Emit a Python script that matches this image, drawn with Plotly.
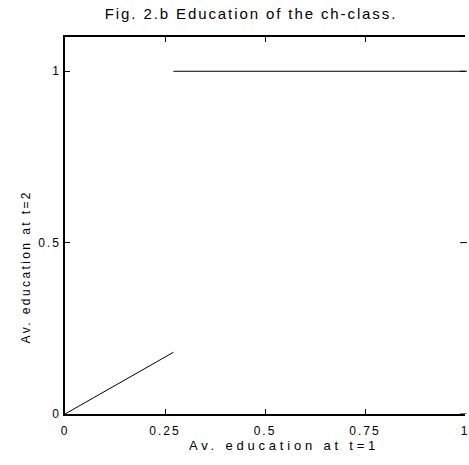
import plotly.graph_objects as go

# Average education of the ch-class: low branch and upper branch
low_x = [0.0, 0.271]
low_y = [0.0, 0.18]
high_x = [0.271, 1.0]
high_y = [1.0, 1.0]

x_ticks = [0, 0.25, 0.5, 0.75, 1]
x_tick_text = ["0", "0.25", "0.5", "0.75", "1"]
y_ticks = [0, 0.5, 1]
y_tick_text = ["0", "0.5", "1"]

title_text = "Fig. 2.b Education of the ch-class."
x_title = "Av. education at t=1"
y_title = "Av. education at t=2"

W, H = 469, 465
L, T, B = 65, 37, 51
PW, PH = W - L, H - T - B
FONT = "Liberation Sans, Arial, sans-serif"

fig = go.Figure()
for xs, ys in ((low_x, low_y), (high_x, high_y)):
    fig.add_trace(go.Scatter(x=xs, y=ys, mode="lines",
                             line=dict(color="black", width=1),
                             showlegend=False, hoverinfo="skip"))

axis_common = dict(showgrid=False, zeroline=False, showline=True,
                   linecolor="black", linewidth=1.5,
                   ticks="inside", ticklen=5, tickwidth=1, tickcolor="black",
                   tickfont=dict(family=FONT, size=12, color="black"))

# x axis mirrored to draw the top frame with its ticks
fig.update_xaxes(range=[0, 1], tickvals=x_ticks, ticktext=x_tick_text,
                 mirror="ticks", ticklabelstandoff=5,
                 ticklabeloverflow="allow", **axis_common)
# the right frame edge sits past the page edge: only its ticks show
fig.update_yaxes(range=[0, 1.1], tickvals=y_ticks, ticktext=y_tick_text,
                 mirror=False, **axis_common)
for yv in y_ticks:
    fig.add_shape(type="line", xref="paper", yref="y",
                  x0=1 - 5 / PW, x1=1.0 + 2 / PW, y0=yv, y1=yv,
                  line=dict(color="black", width=1))

fig.add_annotation(text=x_title, showarrow=False, name="xlabel",
                   xref="paper", yref="paper", xanchor="center", yanchor="middle",
                   x=(286 - L) / PW, y=-(445 - (H - B)) / PH,
                   font=dict(family=FONT, size=13, color="black"))
fig.add_annotation(text=y_title, textangle=-90, showarrow=False, name="ylabel",
                   xref="paper", yref="paper", xanchor="center", yanchor="middle",
                   x=-(L - 26) / PW, y=((H - B) - 266) / PH,
                   font=dict(family=FONT, size=12, color="black"))

fig.update_layout(
    width=W, height=H,
    margin=dict(l=L, r=0, t=T, b=B),
    paper_bgcolor="white", plot_bgcolor="white",
    title=dict(text=title_text, x=251 / W, xanchor="center", xref="container",
               y=1 - 14 / H, yanchor="middle", yref="container",
               font=dict(family=FONT, size=15, color="black")),
)

# widen the letter spacing of the text, as in the printed figure
spacing_js = """
(function () {
  var gd = document.getElementById('{plot_id}');
  function spread() {
    gd.querySelectorAll('.gtitle').forEach(function (t) { t.style.letterSpacing = '1.9px'; });
    gd.querySelectorAll('.xtick text, .ytick text').forEach(function (t) { t.style.letterSpacing = '2px'; });
    gd.querySelectorAll('.annotation-text').forEach(function (t) {
      t.style.letterSpacing = t.textContent.indexOf('t=1') >= 0 ? '3.8px' : '2.4px';
    });
  }
  spread();
  if (gd.on) { gd.on('plotly_afterplot', spread); }
  setTimeout(spread, 0);
})();
"""

fig.write_html("out.html", post_script=spacing_js)
